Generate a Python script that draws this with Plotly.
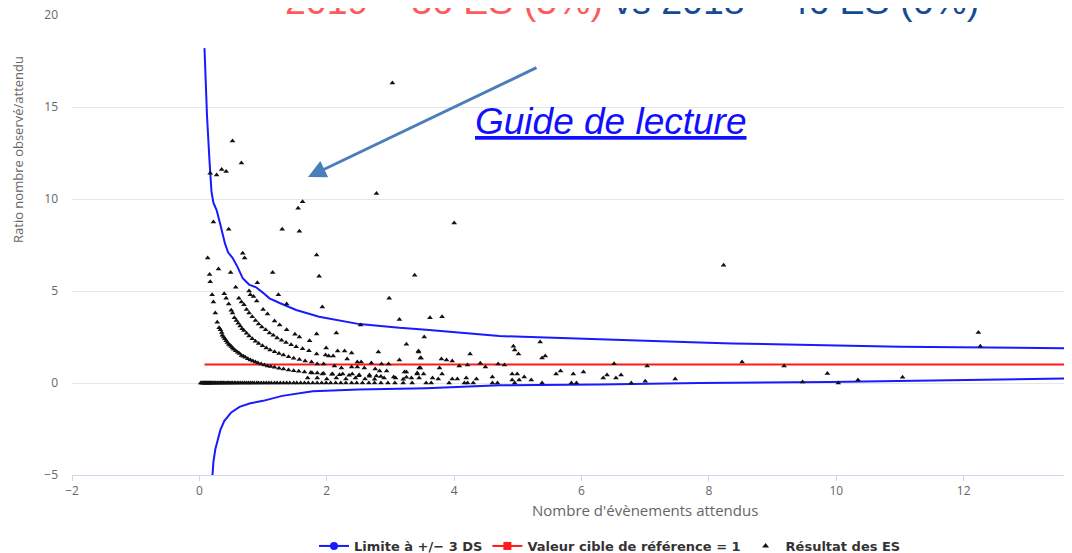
import plotly.graph_objects as go

# ---------------- data ----------------
upper_x = [0.08, 0.12, 0.16, 0.19, 0.22, 0.27, 0.33, 0.40, 0.45, 0.52, 0.60, 0.68, 0.78, 0.89,
           1.00, 1.10, 1.26, 1.52, 1.88, 2.20, 2.51, 3.14, 3.56, 4.71, 5.76, 6.28, 7.85, 8.37,
           11.0, 13.75]
upper_y = [18.2, 14.5, 12.0, 10.4, 9.8, 9.4, 8.6, 7.6, 7.1, 6.8, 6.3, 5.7, 5.35, 5.2,
           4.9, 4.6, 4.35, 3.97, 3.6, 3.4, 3.2, 3.0, 2.9, 2.55, 2.45, 2.38, 2.2, 2.15,
           1.97, 1.88]

lower_x = [0.19, 0.205, 0.22, 0.25, 0.28, 0.33, 0.39, 0.50, 0.63, 0.80, 1.00, 1.30, 1.78,
           2.50, 3.56, 4.71, 6.28, 7.85, 9.90, 12.0, 13.75]
lower_y = [-5.8, -5.0, -4.3, -3.6, -3.15, -2.55, -2.07, -1.6, -1.3, -1.1, -0.97, -0.7, -0.45,
           -0.36, -0.28, -0.12, -0.08, 0.0, 0.05, 0.15, 0.25]

ref_x = [0.08, 14.0]
ref_y = [1, 1]

# établissements with ratio 0
es_zero_x = [0.02, 0.04, 0.05, 0.06, 0.07, 0.08, 0.09, 0.10, 0.11, 0.12, 0.13, 0.14, 0.15,
             0.16, 0.17, 0.18, 0.19, 0.20, 0.22, 0.23, 0.25, 0.26, 0.28, 0.29, 0.31, 0.33,
             0.35, 0.36, 0.38, 0.40, 0.42, 0.44, 0.46, 0.48, 0.50, 0.52, 0.55, 0.57, 0.60,
             0.62, 0.65, 0.68, 0.71, 0.74, 0.77, 0.80, 0.83, 0.86, 0.90, 0.93, 0.97, 1.01,
             1.05, 1.09, 1.13, 1.18, 1.22, 1.27, 1.32, 1.37, 1.42, 1.48, 1.53, 1.59, 1.65,
             1.71, 1.78, 1.85, 1.92, 1.99, 2.06, 2.14, 2.22, 2.30, 2.39, 2.47, 2.56, 2.66,
             2.75, 2.85, 2.96, 3.07, 3.20, 3.34, 3.56, 3.64, 3.92, 4.16, 4.21, 4.30, 4.60,
             4.68, 4.95, 5.38, 5.84, 5.92, 6.78, 10.03]
es_zero_y = [0.0] * len(es_zero_x)

# établissements with ratio > 0
es_x = [
    # high values
    3.03, 0.52, 0.66, 0.17, 0.27, 0.35, 0.42, 2.78, 1.62, 1.55, 0.22, 0.46, 1.30, 1.57, 4.00,
    1.84, 1.88, 3.38, 2.98, 8.23, 12.23, 12.26, 0.68, 0.71, 1.15, 0.91, 1.24, 1.37, 1.93,
    3.14, 3.62, 3.81, 2.53,
    0.13, 0.16, 0.17, 0.30, 0.49, 0.20, 0.22, 0.25, 0.28, 0.57, 0.39, 0.78, 0.80,
    # first arc
    0.31, 0.33, 0.35, 0.36, 0.38, 0.40, 0.42, 0.44, 0.46, 0.48, 0.50, 0.52, 0.54, 0.57, 0.60,
    0.63, 0.66, 0.69, 0.72, 0.76, 0.80, 0.84, 0.88, 0.92, 0.97, 1.02, 1.07, 1.12, 1.18, 1.25,
    1.32, 1.40, 1.48, 1.56, 1.65, 1.75, 1.85, 1.95, 2.08, 2.20, 2.35, 2.50, 2.67, 2.85, 3.05,
    3.25,
    1.70, 1.85, 2.00, 2.15, 2.30, 2.45, 2.60, 2.75, 2.90, 3.08, 3.20,
    # second arc
    0.42, 0.46, 0.50, 0.52, 0.55, 0.58, 0.61, 0.64, 0.67, 0.70, 0.74, 0.78, 0.83, 0.88, 0.93,
    0.99, 1.05, 1.11, 1.18, 1.25, 1.32, 1.40, 1.48, 1.57, 1.66, 1.76,
    # third arc
    0.62, 0.66, 0.70, 0.74, 0.78, 0.83, 0.88, 0.93, 0.98, 1.04, 1.10, 1.16, 1.22, 1.29, 1.36,
    1.44, 1.52, 1.62, 1.72,
    # fourth arc
    0.85, 0.90, 1.00, 1.07, 1.18, 1.26, 1.37, 1.50, 1.57, 1.73, 1.84, 2.15,
    # x 1.8 - 3.6
    1.99, 2.17, 2.28, 2.39, 2.81, 3.44, 3.47, 1.84, 1.98, 2.03, 2.10, 2.32, 2.48, 2.54, 2.70,
    2.86, 2.97, 1.85, 1.95, 2.12, 2.23, 2.39, 2.48, 2.59, 2.76, 2.83, 2.94, 3.25, 3.45, 3.42,
    3.25, 3.53, 1.77, 1.93, 2.09, 2.25, 2.40, 2.51, 2.67, 2.78,
    # x 3.1 - 7.5
    3.14, 3.44, 3.48, 3.80, 3.88, 3.97, 4.25, 4.93, 4.95, 5.01, 5.35, 5.38, 5.43, 4.41, 4.49,
    4.69, 4.79, 6.51, 7.03, 4.08, 4.21, 3.77, 3.47, 5.60, 5.67, 5.87, 6.03, 6.34, 6.40, 6.54,
    6.62, 7.00, 7.47,
    3.22, 3.33, 3.42, 3.52, 3.45, 3.66, 3.75, 3.81, 3.97, 4.05, 4.19, 4.35, 4.60, 4.91, 4.99,
    4.91, 5.02, 5.10, 5.21,
    # x > 8
    8.52, 9.18, 9.47, 9.86, 10.34, 11.04,
]
es_y = [
    16.3, 13.15, 11.95, 11.4, 11.3, 11.6, 11.5, 10.3, 9.85, 9.5, 8.75, 8.35, 8.35, 8.25, 8.7,
    6.95, 5.8, 5.85, 4.6, 6.4, 2.75, 2.0, 7.05, 6.8, 6.0, 5.45, 4.8, 4.3, 4.13,
    3.45, 3.55, 3.6, 3.15,
    6.8, 5.9, 5.5, 6.2, 6.0, 4.8, 4.4, 3.8, 3.3, 5.2, 4.85, 5.0, 4.8,
    3.0, 2.9, 2.75, 2.6, 2.5, 2.4, 2.3, 2.2, 2.1, 2.05, 1.98, 1.9, 1.83, 1.75, 1.67,
    1.6, 1.5, 1.45, 1.4, 1.32, 1.25, 1.2, 1.14, 1.09, 1.03, 0.98, 0.93, 0.89, 0.85, 0.8,
    0.76, 0.71, 0.67, 0.64, 0.6, 0.57, 0.54, 0.51, 0.48, 0.45, 0.42, 0.4, 0.37, 0.35, 0.33,
    0.31,
    0.27, 0.27, 0.22, 0.27, 0.22, 0.27, 0.22, 0.2, 0.27, 0.27, 0.2,
    4.6, 4.3, 3.95, 3.8, 3.55, 3.4, 3.25, 3.1, 2.95, 2.85, 2.7, 2.55, 2.4, 2.27, 2.15,
    2.02, 1.9, 1.8, 1.7, 1.6, 1.52, 1.43, 1.35, 1.28, 1.2, 1.14,
    4.6, 4.4, 4.25, 4.0, 3.8, 3.6, 3.4, 3.2, 3.05, 2.9, 2.72, 2.6, 2.45, 2.33, 2.2,
    2.08, 1.97, 1.86, 1.75,
    4.7, 4.45, 4.0, 3.75, 3.37, 3.15, 2.9, 2.65, 2.5, 2.3, 2.66, 2.72,
    1.9, 1.74, 1.74, 1.63, 1.68, 1.68, 1.36, 1.58, 1.52, 1.47, 1.47, 1.3, 1.14, 1.14, 1.09,
    1.03, 1.03, 1.03, 1.03, 0.92, 0.82, 0.87, 0.87, 0.82, 0.76, 0.65, 0.65, 0.6, 0.82, 0.54,
    2.1, 2.5, 0.54, 0.49, 0.49, 0.49, 0.49, 0.43, 0.43, 0.38,
    1.25, 1.74, 1.36, 1.3, 1.25, 1.2, 1.58, 2.0, 1.8, 1.58, 2.23, 1.36, 1.47, 1.08, 0.87,
    1.03, 0.98, 1.05, 0.92, 0.92, 0.98, 0.82, 0.82, 0.49, 0.65, 0.49, 0.6, 0.27, 0.43, 0.27,
    0.43, 0.1, 0.22,
    0.6, 0.27, 0.49, 0.49, 0.27, 0.27, 0.22, 0.49, 0.22, 0.22, 0.27, 0.22, 0.33, 0.49, 0.49,
    0.16, 0.16, 0.33, 0.16,
    1.14, 0.92, 0.05, 0.52, 0.16, 0.31,
]

legend_names = ["Limite à +/− 3 DS", "Valeur cible de référence = 1", "Résultat des ES"]
title_red = "2019 = 36 ES (5%)"
title_blue = " vs 2018 = 46 ES (6%)"
guide_text = "Guide de lecture"
x_title = "Nombre d'évènements attendus"
y_title = "Ratio nombre observé/attendu"

BLUE = "#1a1aff"
RED = "#ff1a1a"

fig = go.Figure()

# limits
fig.add_trace(go.Scatter(x=upper_x, y=upper_y, mode="lines", line=dict(color=BLUE, width=2),
                         showlegend=False, hoverinfo="skip"))
fig.add_trace(go.Scatter(x=lower_x, y=lower_y, mode="lines", line=dict(color=BLUE, width=2),
                         showlegend=False, hoverinfo="skip"))
# reference line
fig.add_trace(go.Scatter(x=ref_x, y=ref_y, mode="lines", line=dict(color=RED, width=2),
                         showlegend=False, hoverinfo="skip"))
# ES points
fig.add_trace(go.Scatter(x=es_zero_x + es_x, y=es_zero_y + es_y, mode="markers",
                         marker=dict(symbol="triangle-up", size=5, color="#111111",
                                     line=dict(width=0)),
                         showlegend=False))

# legend-only entries
fig.add_trace(go.Scatter(x=[None], y=[None], mode="lines+markers", name=legend_names[0],
                         line=dict(color=BLUE, width=2),
                         marker=dict(symbol="circle", size=8, color=BLUE)))
fig.add_trace(go.Scatter(x=[None], y=[None], mode="lines+markers", name=legend_names[1],
                         line=dict(color=RED, width=2),
                         marker=dict(symbol="square", size=8, color=RED)))
fig.add_trace(go.Scatter(x=[None], y=[None], mode="markers", name=legend_names[2],
                         marker=dict(symbol="triangle-up", size=6, color="#111111")))

# the page body has an 8px margin: figure is drawn at (8, 8) in the window
OFF = 8
W, H = 1072 - OFF, 553 - OFF
PLOT_L, PLOT_W, PLOT_T, PLOT_H = 72 - OFF, 1000, 15 - OFF, 460


def px_to_paper(px, py):
    """Window pixel (as in the reference) -> paper coordinates."""
    return (px - OFF - PLOT_L) / PLOT_W, 1 - (py - OFF - PLOT_T) / PLOT_H


annotations = []
# title (partly cut at the top)
tx, ty = px_to_paper(632, 23)
annotations.append(dict(
    x=tx, y=ty, xref="paper", yref="paper", xanchor="center", yanchor="bottom",
    text=f"<span style='color:#ff5a5a'>{title_red}</span>"
         f"<span style='color:#154a96'>{title_blue}</span>",
    showarrow=False, bgcolor="white", borderpad=0,
    font=dict(family="Liberation Sans", size=37.5)))
# guide de lecture
gx, gy = px_to_paper(611, 121)
annotations.append(dict(
    x=gx, y=gy, xref="paper", yref="paper", xanchor="center", yanchor="middle",
    text=f"<i><span style='text-decoration:underline'>{guide_text}</span></i>",
    showarrow=False, font=dict(family="Liberation Sans", size=37, color="#1010ff")))
# arrow
hx, hy = px_to_paper(308, 177)
annotations.append(dict(
    x=hx, y=hy, xref="paper", yref="paper", text="", showarrow=True,
    ax=230, ay=-110, arrowhead=2, arrowsize=1.2, arrowwidth=3, arrowcolor="#4a7ebb",
    standoff=0))
# axis titles
yx, yy = px_to_paper(18, 150)
annotations.append(dict(
    x=yx, y=yy, xref="paper", yref="paper", xanchor="center", yanchor="middle",
    text=y_title, textangle=-90, showarrow=False,
    font=dict(family="Open Sans", size=13, color="#666666")))
xx, xy = px_to_paper(645, 510)
annotations.append(dict(
    x=xx, y=xy, xref="paper", yref="paper", xanchor="center", yanchor="middle",
    text=x_title, showarrow=False,
    font=dict(family="Open Sans", size=15, color="#666666")))

bx0, by0 = px_to_paper(375, 95)
bx1, by1 = px_to_paper(845, 150)

fig.update_layout(
    width=W, height=H,
    margin=dict(l=PLOT_L, r=W - PLOT_L - PLOT_W, t=PLOT_T, b=H - PLOT_T - PLOT_H),
    paper_bgcolor="white", plot_bgcolor="white",
    xaxis=dict(range=[-2, 13.7], tickvals=[-2, 0, 2, 4, 6, 8, 10, 12],
               ticktext=["−2", "0", "2", "4", "6", "8", "10", "12"],
               showgrid=False, zeroline=False, showline=True, linecolor="#ccd6eb",
               linewidth=1, ticks="outside", ticklen=5, tickcolor="#ccd6eb",
               automargin=False, ticklabeloverflow="allow",
               tickfont=dict(family="Open Sans", size=12, color="#666666")),
    yaxis=dict(range=[-5, 20], tickvals=[-5, 0, 5, 10, 15, 20],
               ticktext=["−5", "0", "5", "10", "15", "20"],
               showgrid=True, gridcolor="#e6e6e6", gridwidth=1, zeroline=False,
               showline=False, ticks="", ticklabelstandoff=13, automargin=False,
               ticklabeloverflow="allow",
               tickfont=dict(family="Open Sans", size=12, color="#666666")),
    showlegend=True,
    legend=dict(orientation="h", xref="container", yref="container",
                x=(610 - OFF) / W, y=1 - (546 - OFF) / H, xanchor="center", yanchor="middle",
                font=dict(family="DejaVu Sans", size=13, color="#333333", weight="bold"),
                bgcolor="rgba(0,0,0,0)", itemwidth=30),
    annotations=annotations,
    shapes=[dict(type="rect", xref="paper", yref="paper", x0=bx0, x1=bx1, y0=by1, y1=by0,
                 fillcolor="white", line=dict(width=0), layer="between")],
)

fig.write_html("out.html")
